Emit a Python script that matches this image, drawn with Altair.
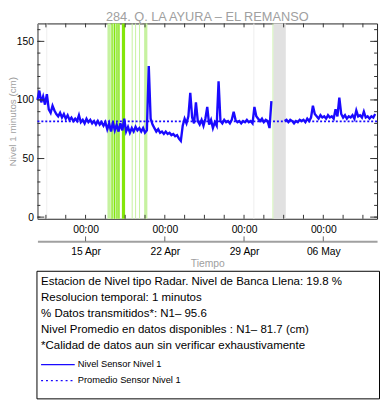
import altair as alt
import pandas as pd

FONT = "Liberation Sans"
BLUE = "#1a0aff"

title_text = "284. Q. LA AYURA – EL REMANSO"
y_title = "Nivel 1 minutos (cm)"
x_title = "Tiempo"

# ---- level series (4-hourly readings; None = no data)
series_start = "2024-04-10T18:00:00"
series_step = "4h"
level_values = [
    100, 108, 98, 103, 96, 105, 92, 89, 95, 91,
    88, 86, 89, 85, 88, 84, 87, 83, 85, 82,
    84, 82, 87, 81, 83, 80, 84, 81, 83, 80,
    82, 79, 82, 79, 81, 78, 81, 75, 80, 73,
    81, 74, 79, 73, 80, 74, 84, 73, 77, 72,
    76, 73, 77, 74, 76, 73, 76, 72, 74, 129,
    84, 79, 76, 73, 75, 72, 73, 71, 73, 71,
    72, 70, 71, 69, 70, 67, 65, 78, 84, 80,
    86, 106, 85, 80, 98, 82, 79, 83, 78, 84,
    94, 79, 83, 76, 81, 78, 116, 82, 80, 83,
    81, 82, 80, 83, 90, 83, 81, 82, 80, 82,
    81, 83, 81, 82, 80, 94, 86, 84, 82, 84,
    81, 83, 82, 76, 99, None, None, None, None, None,
    None, 82, 83, 81, 83, 82, 80, 82, 81, 83,
    82, 83, 81, 84, 82, 85, 95, 88, 86, 84,
    87, 85, 86, 84, 87, 85, 86, 84, 92, 86,
    102, 88, 85, 87, 84, 86, 85, 87, 84, 91,
    86, 87, 85, 90, 85, 86, 84, 86, 85, 88,
]
mean_level = [81.7]

# ---- shaded periods
light_green_start = ["2024-04-16T22:24", "2024-04-17T06:42", "2024-04-19T01:48",
                     "2024-04-19T09:06", "2024-04-19T17:24", "2024-04-20T04:12",
                     "2024-05-01T12:24"]
light_green_end = ["2024-04-17T05:30", "2024-04-18T00:48", "2024-04-19T03:54",
                   "2024-04-19T11:06", "2024-04-19T19:30", "2024-04-20T11:06",
                   "2024-05-01T14:30"]
bright_green_start = ["2024-04-17T07:06", "2024-04-17T12:18", "2024-04-17T17:30",
                      "2024-04-17T21:42", "2024-04-18T05:00"]
bright_green_end = ["2024-04-17T09:12", "2024-04-17T14:24", "2024-04-17T19:36",
                    "2024-04-17T23:48", "2024-04-18T11:48"]
pale_gray_start = ["2024-04-11T12:44", "2024-04-29T19:48"]
pale_gray_end = ["2024-04-11T14:49", "2024-04-29T21:54"]
gray_start = ["2024-05-01T14:30"]
gray_end = ["2024-05-02T16:30"]

# ---- axes
y_major = [0, 50, 100, 150]
y_minor = list(range(0, 161, 10))
x_major = ["2024-04-15T00:00:00", "2024-04-22T00:00:00",
           "2024-04-29T00:00:00", "2024-05-06T00:00:00"]
x_minor_first = "2024-04-11T12:00:00"
x_minor_step = "42h"
x_minor_count = 17

info_lines = [
    "Estacion de Nivel tipo Radar. Nivel de Banca Llena: 19.8 %",
    "Resolucion temporal: 1 minutos",
    "% Datos transmitidos*: N1\u2013 95.6",
    "Nivel Promedio en datos disponibles : N1\u2013 81.7 (cm)",
    "*Calidad de datos aun sin verificar exhaustivamente",
]
legend_labels = ["Nivel Sensor Nivel 1", "Promedio Sensor Nivel 1"]

PLOT_W, PLOT_H = 346, 199

def dt(s):
    t = pd.Timestamp(s)
    return alt.DateTime(year=t.year, month=t.month, date=t.day,
                        hours=t.hour, minutes=t.minute)

xscale = alt.Scale(domain=[dt("2024-04-10T18:00"), dt("2024-05-10T18:00")])
yscale = alt.Scale(domain=[-1.4, 165.3], nice=False, zero=False)

axis_hours = alt.Axis(values=[dt(s) for s in x_major], format="%H:%M",
                      orient="bottom",
                      ticks=False, domain=False, grid=False, labelPadding=6,
                      labelFontSize=10.5, labelColor="black", title=None,
                      labelFlush=False)
axis_dates = alt.Axis(values=[dt(s) for s in x_major], format="%d %b",
                      orient="bottom",
                      offset=23, ticks=False, domain=True, domainColor="#a0a0a0",
                      domainWidth=2, grid=False, labelPadding=5,
                      labelFontSize=10.5, labelColor="black", title=x_title,
                      titleColor="#a0a0a0", titleFontSize=10.5,
                      titleFontWeight="normal", titlePadding=2, labelFlush=False)
yaxis = alt.Axis(values=y_major, ticks=False, grid=False, domain=True,
                 domainColor="#999999", domainWidth=1.5, labelPadding=4,
                 labelFontSize=10.5, labelColor="black", title=y_title,
                 titleColor="#a0a0a0", titleFontSize=10, titleFontWeight="normal",
                 titlePadding=-1)

def band(starts, ends, color):
    df = pd.DataFrame({"s": pd.to_datetime(starts), "e": pd.to_datetime(ends)})
    return alt.Chart(df).mark_rect(color=color, opacity=1).encode(
        x=alt.X("s:T", scale=xscale, axis=None), x2="e:T",
        y=alt.value(0), y2=alt.value(PLOT_H))

layers = [
    band(pale_gray_start, pale_gray_end, "#eeeeee"),
    band(light_green_start, light_green_end, "#c6f2a0"),
    band(bright_green_start, bright_green_end, "#84e60a"),
    band(gray_start, gray_end, "#e1e1e1"),
]

times = pd.date_range(series_start, periods=len(level_values), freq=series_step)
df_line = pd.DataFrame({"t": times, "v": level_values})
df_line["seg"] = df_line["v"].isna().cumsum()
df_line = df_line.dropna()
layers.append(alt.Chart(df_line).mark_line(color=BLUE, strokeWidth=2.4).encode(
    x=alt.X("t:T", scale=xscale, axis=axis_hours),
    y=alt.Y("v:Q", scale=yscale, axis=yaxis),
    detail="seg:N"))

layers.append(alt.Chart(pd.DataFrame({"v": mean_level})).mark_rule(
    color=BLUE, strokeWidth=2, strokeDash=[2, 2]).encode(
    y=alt.Y("v:Q", scale=yscale, axis=yaxis)))

# inside ticks, left / right
df_ymaj = pd.DataFrame({"v": y_major})
df_ymin = pd.DataFrame({"v": y_minor})
for df, ln in ((df_ymaj, 7), (df_ymin, 3)):
    layers.append(alt.Chart(df).mark_rule(color="#333333").encode(
        y=alt.Y("v:Q", scale=yscale, axis=yaxis), x=alt.value(0), x2=alt.value(ln)))
    layers.append(alt.Chart(df).mark_rule(color="#333333").encode(
        y=alt.Y("v:Q", scale=yscale, axis=yaxis), x=alt.value(PLOT_W - ln),
        x2=alt.value(PLOT_W)))

# inside ticks, bottom / top
df_xmin = pd.DataFrame({"t": pd.date_range(x_minor_first, periods=x_minor_count,
                                           freq=x_minor_step)})
layers.append(alt.Chart(df_xmin).mark_rule(color="#333333").encode(
    x=alt.X("t:T", scale=xscale, axis=None), y=alt.value(PLOT_H - 4),
    y2=alt.value(PLOT_H)))
layers.append(alt.Chart(df_xmin).mark_rule(color="#333333").encode(
    x=alt.X("t:T", scale=xscale, axis=None), y=alt.value(0), y2=alt.value(4)))

# date axis (second row) with upward ticks
df_xmaj = pd.DataFrame({"t": pd.to_datetime(x_major)})
layers.append(alt.Chart(df_xmaj).mark_rule(color="#666666").encode(
    x=alt.X("t:T", scale=xscale, axis=axis_dates), y=alt.value(217),
    y2=alt.value(222)))

one = pd.DataFrame({"a": [0]})

# chart title
layers.append(alt.Chart(one).mark_text(
    align="center", baseline="alphabetic", fontSize=13, color="#a0a0a0",
    font=FONT, text=title_text).encode(x=alt.value(PLOT_W / 2), y=alt.value(-2.5)))

# info box
layers.append(alt.Chart(one).mark_rect(fill="white", stroke="black",
                                       strokeWidth=1).encode(
    x=alt.value(-0.5), x2=alt.value(348.5), y=alt.value(252.5), y2=alt.value(382.5)))
for k, line in enumerate(info_lines):
    layers.append(alt.Chart(one).mark_text(
        align="left", baseline="alphabetic", fontSize=11.7, color="black",
        font=FONT, text=line).encode(x=alt.value(3.7), y=alt.value(266.7 + 16.15 * k)))

legend_y = [347.7, 364]
legend_dash = [[1, 0], [2, 3]]
for k, lab in enumerate(legend_labels):
    layers.append(alt.Chart(one).mark_rule(color=BLUE, strokeWidth=1.3,
                                           strokeDash=legend_dash[k]).encode(
        x=alt.value(3.7), x2=alt.value(38), y=alt.value(legend_y[k])))
    layers.append(alt.Chart(one).mark_text(
        align="left", baseline="alphabetic", fontSize=9.5, color="black",
        font=FONT, text=lab).encode(x=alt.value(41), y=alt.value(legend_y[k] + 2.5)))

chart = alt.layer(*layers).properties(
    width=PLOT_W, height=PLOT_H,
    padding={"left": 30, "top": 12, "right": 3, "bottom": 185},
    autosize=alt.AutoSizeParams(type="none"),
).resolve_axis(x="independent").configure(font=FONT).configure_view(
    stroke="#222222", strokeWidth=1)

chart.save("out.html", embed_options={"renderer": "svg", "actions": False})
